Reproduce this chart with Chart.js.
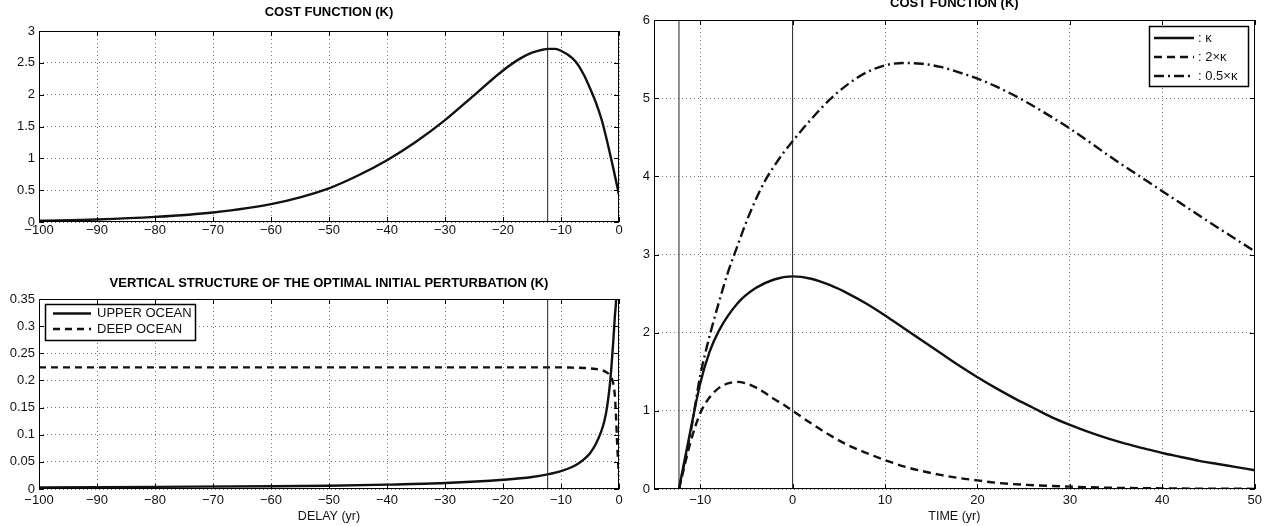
<!DOCTYPE html>
<html>
<head>
<meta charset="utf-8">
<script src="https://cdn.jsdelivr.net/npm/chart.js@4"></script>
<style>
  body { margin: 0; background: #fff; width: 1266px; height: 526px; overflow: hidden; }
  .panel { position: absolute; }
</style>
</head>
<body>
<div class="panel" style="left:0;top:0;width:640px;height:240px"><canvas id="cost-delay"></canvas></div>
<div class="panel" style="left:0;top:240px;width:640px;height:286px"><canvas id="structure"></canvas></div>
<div class="panel" style="left:640px;top:0;width:626px;height:526px"><canvas id="cost-time"></canvas></div>
<script>
const FONT = '"Liberation Sans", Arial, Helvetica, sans-serif';

// delay of the optimal perturbation (vertical marker)
const optimalDelay = -12.3;

// top left: cost function vs delay
const delayYears = [-100, -90, -80, -70, -60, -50, -45, -40, -35, -30, -25, -20, -17, -15, -13, -12.3, -11, -10, -8, -7, -6, -5, -4, -3, -2, -1, 0];
const costByDelay = [0.02, 0.04, 0.08, 0.15, 0.28, 0.53, 0.73, 0.97, 1.26, 1.6, 1.99, 2.38, 2.57, 2.66, 2.71, 2.72, 2.72, 2.69, 2.57, 2.46, 2.3, 2.1, 1.88, 1.61, 1.25, 0.85, 0.43];

// bottom left: vertical structure
const upperDelay = [-100, -80, -60, -50, -40, -30, -20, -15, -12.3, -10, -8, -7, -6, -5, -4, -3, -2.5, -2, -1.5, -1, -0.7, -0.5, -0.3];
const upperOcean = [0.003, 0.004, 0.005, 0.006, 0.008, 0.011, 0.017, 0.022, 0.027, 0.033, 0.041, 0.047, 0.055, 0.066, 0.083, 0.108, 0.126, 0.155, 0.2, 0.27, 0.32, 0.35, 0.45];
const deepDelay = [-100, -50, -20, -10, -8, -6, -4, -3, -2, -1.5, -1, -0.7, -0.5, -0.3, -0.1, 0];
const deepOcean = [0.224, 0.224, 0.224, 0.224, 0.2235, 0.223, 0.221, 0.219, 0.214, 0.208, 0.195, 0.17, 0.13, 0.08, 0.04, 0.025];

// right: cost function vs time for three kappa values
const timeKappa = [-12.3, -11, -10, -9, -8, -6, -4, -2, 0, 2, 4, 6, 8, 10, 12, 14, 16, 18, 20, 22, 24, 26, 28, 30, 32, 34, 36, 38, 40, 42, 44, 46, 48, 50];
const costKappa = [0, 0.78, 1.35, 1.75, 2.02, 2.37, 2.57, 2.68, 2.72, 2.69, 2.61, 2.5, 2.37, 2.22, 2.06, 1.9, 1.74, 1.58, 1.43, 1.29, 1.16, 1.04, 0.92, 0.82, 0.73, 0.65, 0.58, 0.52, 0.46, 0.41, 0.36, 0.32, 0.28, 0.24];
const time2Kappa = [-12.3, -11, -10, -9, -8, -7, -6, -5, -4, -3, -2, -1, 0, 2, 4, 6, 8, 10, 12, 14, 16, 18, 20, 22, 25, 30, 35, 40, 45, 50];
const cost2Kappa = [0, 0.62, 0.97, 1.17, 1.29, 1.35, 1.37, 1.35, 1.3, 1.23, 1.15, 1.08, 1.0, 0.84, 0.69, 0.56, 0.46, 0.37, 0.29, 0.23, 0.18, 0.14, 0.11, 0.08, 0.055, 0.03, 0.015, 0.008, 0.004, 0.002];
const timeHalfKappa = [-12.3, -11, -10, -9, -8, -7, -6, -5, -4, -3, -2, -1, 0, 2, 4, 6, 8, 10, 12, 14, 16, 18, 20, 22, 25, 28, 30, 35, 40, 45, 50];
const costHalfKappa = [0, 0.75, 1.45, 1.95, 2.38, 2.77, 3.1, 3.42, 3.7, 3.94, 4.13, 4.3, 4.45, 4.73, 4.98, 5.18, 5.33, 5.42, 5.45, 5.44, 5.4, 5.33, 5.25, 5.15, 4.97, 4.76, 4.61, 4.2, 3.81, 3.42, 3.04];

// tick labels
const delayTicks = [-100, -90, -80, -70, -60, -50, -40, -30, -20, -10, 0];
const costTicks = [0, 0.5, 1, 1.5, 2, 2.5, 3];
const structTicks = [0, 0.05, 0.1, 0.15, 0.2, 0.25, 0.3, 0.35];
const timeTicks = [-10, 0, 10, 20, 30, 40, 50];
const costTimeTicks = [0, 1, 2, 3, 4, 5, 6];

const pts = (xs, ys) => xs.map((x, i) => ({ x: x, y: ys[i] }));
const fmt = v => String(Number(v.toFixed(2))).replace('-', '\u2212');

function curve(label, xs, ys, dash) {
  return {
    label: label, data: pts(xs, ys), borderColor: '#111', borderWidth: 2.4,
    borderDash: dash || [], pointRadius: 0, cubicInterpolationMode: 'monotone', fill: false
  };
}
function marker(x, y0, y1) {
  return { data: [{ x: x, y: y0 }, { x: x, y: y1 }], borderColor: '#222', borderWidth: 1, pointRadius: 0 };
}

function axis(min, max, ticks, size, pad, extra) {
  return Object.assign({
    type: 'linear', min: min, max: max,
    afterBuildTicks: s => { s.ticks = ticks.map(v => ({ value: v })); },
    afterFit: s => { if (s.isHorizontal()) s.height = size; else s.width = size; },
    grid: { color: '#777', lineWidth: 1, drawTicks: false },
    border: { display: false, dash: [1, 3] },
    ticks: { color: '#111', font: { family: FONT, size: 13 }, padding: pad, callback: fmt, maxRotation: 0, autoSkip: false }
  }, extra || {});
}
function xTitle(text) {
  return { display: true, text: text, color: '#111', font: { family: FONT, size: 12.5 }, padding: { top: 0, bottom: 2 } };
}

// frame around plot area with inward ticks, like the original axes box
const frame = {
  id: 'frame',
  afterDatasetsDraw(chart) {
    const { ctx, chartArea: a, scales } = chart;
    ctx.save();
    ctx.strokeStyle = '#000';
    ctx.lineWidth = 1;
    ctx.setLineDash([]);
    ctx.strokeRect(Math.round(a.left) + 0.5, Math.round(a.top) + 0.5, Math.round(a.width) - 1, Math.round(a.height) - 1);
    ctx.beginPath();
    scales.x.ticks.forEach(t => {
      const px = Math.round(scales.x.getPixelForValue(t.value)) + 0.5;
      ctx.moveTo(px, a.bottom); ctx.lineTo(px, a.bottom - 5);
      ctx.moveTo(px, a.top); ctx.lineTo(px, a.top + 5);
    });
    scales.y.ticks.forEach(t => {
      const py = Math.round(scales.y.getPixelForValue(t.value)) + 0.5;
      ctx.moveTo(a.left, py); ctx.lineTo(a.left + 5, py);
      ctx.moveTo(a.right, py); ctx.lineTo(a.right - 5, py);
    });
    ctx.stroke();
    ctx.restore();
  }
};

// boxed legend drawn inside the plot area
const boxLegend = {
  id: 'boxLegend',
  afterDraw(chart, args, o) {
    if (!o || !o.width) return;
    const ctx = chart.ctx;
    const items = chart.data.datasets.filter(d => d.label);
    ctx.save();
    ctx.fillStyle = '#fff';
    ctx.fillRect(o.left, o.top, o.width, o.height);
    ctx.strokeStyle = '#000';
    ctx.lineWidth = 1.5;
    ctx.setLineDash([]);
    ctx.strokeRect(o.left + 0.5, o.top + 0.5, o.width, o.height);
    ctx.font = '13px ' + FONT;
    ctx.textBaseline = 'middle';
    items.forEach((d, i) => {
      const y = o.top + o.firstRow + i * o.rowGap;
      ctx.beginPath();
      ctx.setLineDash(d.borderDash || []);
      ctx.lineWidth = d.borderWidth;
      ctx.strokeStyle = d.borderColor;
      ctx.moveTo(o.sampleX, y);
      ctx.lineTo(o.sampleX + o.sampleW, y);
      ctx.stroke();
      ctx.fillStyle = '#111';
      ctx.fillText(d.label, o.textX, y);
    });
    ctx.restore();
  }
};

Chart.register(frame, boxLegend);
Chart.defaults.animation = false;
Chart.defaults.font.family = FONT;

function titleOpts(text, top, bottom) {
  return {
    display: true, text: text, color: '#000', fullSize: false,
    font: { family: FONT, size: 13, weight: 'bold', lineHeight: 1.2 },
    padding: { top: top, bottom: bottom }
  };
}

new Chart(document.getElementById('cost-delay'), {
  type: 'line',
  data: {
    datasets: [
      marker(optimalDelay, 0, 3),
      curve(null, delayYears, costByDelay)
    ]
  },
  options: {
    responsive: true, maintainAspectRatio: false,
    layout: { padding: { left: 0, right: 21, top: 0, bottom: 0 } },
    plugins: { legend: { display: false }, tooltip: { enabled: false }, title: titleOpts('COST FUNCTION (K)', 4.2, 11.2) },
    scales: {
      x: axis(-100, 0, delayTicks, 18, 1),
      y: axis(0, 3, costTicks, 39, 4)
    }
  }
});

new Chart(document.getElementById('structure'), {
  type: 'line',
  data: {
    datasets: [
      marker(optimalDelay, 0, 0.35),
      curve('UPPER OCEAN', upperDelay, upperOcean),
      curve('DEEP OCEAN', deepDelay, deepOcean, [7, 5])
    ]
  },
  options: {
    responsive: true, maintainAspectRatio: false,
    layout: { padding: { left: 0, right: 21, top: 0, bottom: 0 } },
    plugins: {
      legend: { display: false }, tooltip: { enabled: false },
      title: titleOpts('VERTICAL STRUCTURE OF THE OPTIMAL INITIAL PERTURBATION (K)', 35.2, 8.2),
      boxLegend: { left: 45, top: 64, width: 150, height: 36, firstRow: 9.5, rowGap: 15.5, sampleX: 53, sampleW: 38, textX: 97 }
    },
    scales: {
      x: axis(-100, 0, delayTicks, 37, 4, { title: xTitle('DELAY (yr)') }),
      y: axis(0, 0.35, structTicks, 39, 4)
    }
  }
});

new Chart(document.getElementById('cost-time'), {
  type: 'line',
  data: {
    datasets: [
      marker(optimalDelay, 0, 6),
      marker(0, 0, 6),
      curve(': \u03ba', timeKappa, costKappa),
      curve(': 2\u00d7\u03ba', time2Kappa, cost2Kappa, [8, 5]),
      curve(': 0.5\u00d7\u03ba', timeHalfKappa, costHalfKappa, [10, 4, 2, 4])
    ]
  },
  options: {
    responsive: true, maintainAspectRatio: false,
    layout: { padding: { left: 0, right: 10, top: 0, bottom: 0 } },
    plugins: {
      legend: { display: false }, tooltip: { enabled: false },
      title: titleOpts('COST FUNCTION (K)', -4.8, 9.2),
      boxLegend: { left: 509, top: 26, width: 99, height: 60, firstRow: 12, rowGap: 19, sampleX: 514, sampleW: 40, textX: 558 }
    },
    scales: {
      x: axis(-15, 50, timeTicks, 37, 4, { title: xTitle('TIME (yr)') }),
      y: axis(0, 6, costTimeTicks, 14, 4)
    }
  }
});
</script>
</body>
</html>
